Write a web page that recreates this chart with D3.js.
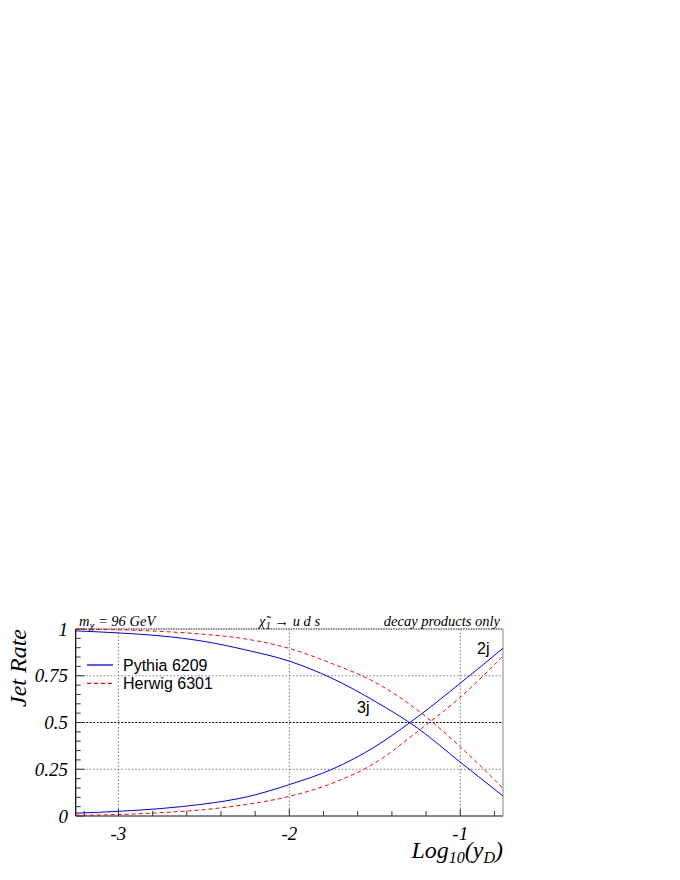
<!DOCTYPE html>
<html>
<head>
<meta charset="utf-8">
<script src="https://cdn.jsdelivr.net/npm/d3@7.9.0/dist/d3.min.js"></script>
<style>
  body { margin: 0; background: #fff; }
  .serif { font-family: "Liberation Serif", "DejaVu Serif", serif; font-style: italic; }
  .sans { font-family: "Liberation Sans", Arial, sans-serif; }
</style>
</head>
<body>
<svg id="chart" width="680" height="880"></svg>
<script>
// log10(yD) sample points
const logY = [-3.25, -3.0, -2.75, -2.5, -2.25, -2.0, -1.75, -1.5, -1.25, -1.0, -0.75];

// jet rates
const pythia3j = [0.990, 0.979, 0.963, 0.934, 0.887, 0.828, 0.736, 0.614, 0.470, 0.288, 0.107];
const pythia2j = [0.015, 0.025, 0.040, 0.064, 0.102, 0.168, 0.250, 0.370, 0.530, 0.710, 0.897];
const herwig3j = [0.998, 0.996, 0.987, 0.972, 0.946, 0.896, 0.815, 0.716, 0.566, 0.370, 0.148];
const herwig2j = [0.004, 0.008, 0.018, 0.034, 0.062, 0.105, 0.175, 0.283, 0.452, 0.635, 0.855];

const xTicks = [-3, -2, -1];
const yTicks = [0, 0.25, 0.5, 0.75, 1];
const yTickLabels = ["0", "0.25", "0.5", "0.75", "1"];

const legendItems = [
  { label: "Pythia 6209", color: "#0000ff", dash: null },
  { label: "Herwig 6301", color: "#ff0000", dash: "4,3" }
];

const svg = d3.select("#chart");

// plot frame
const pLeft = 75.7, pRight = 503, pTop = 629, pBottom = 816;

const x = d3.scaleLinear().domain([-3.25, -0.75]).range([pLeft, pRight]);
const y = d3.scaleLinear().domain([0, 1]).range([pBottom, pTop]);

// grid lines
const grid = svg.append("g");
grid.selectAll("line.vx")
  .data(xTicks)
  .join("line")
  .attr("x1", d => x(d)).attr("x2", d => x(d))
  .attr("y1", pTop).attr("y2", pBottom)
  .attr("stroke", "#555").attr("stroke-width", 0.8)
  .attr("stroke-dasharray", "1.5,2");

grid.selectAll("line.hy")
  .data(yTicks.filter(d => d > 0 && d < 1))
  .join("line")
  .attr("x1", pLeft).attr("x2", pRight)
  .attr("y1", d => y(d)).attr("y2", d => y(d))
  .attr("stroke", d => d === 0.5 ? "#000" : "#555")
  .attr("stroke-width", d => d === 0.5 ? 1.1 : 0.8)
  .attr("stroke-dasharray", d => d === 0.5 ? "2,1.5" : "1.5,2");

// top and right borders (grey)
svg.append("line")
  .attr("x1", pLeft).attr("x2", pRight).attr("y1", pTop).attr("y2", pTop)
  .attr("stroke", "#888").attr("stroke-width", 2).attr("stroke-dasharray", "1.5,1");
svg.append("line")
  .attr("x1", pRight).attr("x2", pRight).attr("y1", pTop).attr("y2", pBottom)
  .attr("stroke", "#999").attr("stroke-width", 1.2);

// bottom axis: ticks every 0.2 pointing up
const xMinor = d3.range(-3.2, -0.7, 0.2).map(v => +v.toFixed(1));
svg.append("line")
  .attr("x1", pLeft).attr("x2", pRight).attr("y1", pBottom).attr("y2", pBottom)
  .attr("stroke", "#888").attr("stroke-width", 2);
svg.append("g").selectAll("line")
  .data(xMinor)
  .join("line")
  .attr("x1", d => x(d)).attr("x2", d => x(d))
  .attr("y1", pBottom).attr("y2", d => Math.abs(d - Math.round(d)) < 1e-6 ? pBottom - 7 : pBottom - 5)
  .attr("stroke", "#333").attr("stroke-width", 1);

svg.append("g").selectAll("text")
  .data(xTicks)
  .join("text")
  .attr("class", "serif")
  .attr("x", d => x(d)).attr("y", 840)
  .attr("text-anchor", "middle")
  .attr("font-size", 19)
  .text(d => "-" + Math.abs(d));

// left axis: major every 0.25, minor every 0.05, pointing right
const yMinor = d3.range(0, 21).map(i => i * 0.05);
svg.append("line")
  .attr("x1", pLeft).attr("x2", pLeft).attr("y1", pTop).attr("y2", pBottom)
  .attr("stroke", "#000").attr("stroke-width", 1.2);
svg.append("g").selectAll("line")
  .data(yMinor)
  .join("line")
  .attr("x1", pLeft)
  .attr("x2", (d, i) => i % 5 === 0 ? pLeft + 9 : pLeft + 5)
  .attr("y1", d => y(d)).attr("y2", d => y(d))
  .attr("stroke", "#333").attr("stroke-width", 1);

svg.append("g").selectAll("text")
  .data(yTicks)
  .join("text")
  .attr("class", "serif")
  .attr("x", 68).attr("y", d => y(d) + 6.5)
  .attr("text-anchor", "end")
  .attr("font-size", 19)
  .text((d, i) => yTickLabels[i]);

// axis titles
svg.append("text")
  .attr("class", "serif")
  .attr("transform", "translate(26,668) rotate(-90)")
  .attr("text-anchor", "middle")
  .attr("font-size", 24)
  .text("Jet Rate");

const xTitle = svg.append("text")
  .attr("class", "serif")
  .attr("x", 503).attr("y", 858)
  .attr("text-anchor", "end")
  .attr("font-size", 24);
xTitle.append("tspan").text("Log");
xTitle.append("tspan").attr("font-size", 16).attr("dy", 5).text("10");
xTitle.append("tspan").attr("dy", -5).text("(y");
xTitle.append("tspan").attr("font-size", 16).attr("dy", 5).text("D");
xTitle.append("tspan").attr("dy", -5).text(")");

// header texts
const hLeft = svg.append("text").attr("class", "serif")
  .attr("x", 79).attr("y", 626).attr("font-size", 14.5);
hLeft.append("tspan").text("m");
hLeft.append("tspan").attr("font-size", 11).attr("dy", 3).text("χ");
hLeft.append("tspan").attr("dy", -3).text(" = 96 GeV");

const hMid = svg.append("text").attr("class", "serif")
  .attr("x", 259).attr("y", 626).attr("font-size", 14.5);
hMid.append("tspan").text("χ\u0303");
hMid.append("tspan").attr("font-size", 11).attr("dy", 3).text("1");
hMid.append("tspan").attr("dy", -3).attr("font-style", "normal").text(" → ");
hMid.append("tspan").text("u d s");

svg.append("text").attr("class", "serif")
  .attr("x", 500).attr("y", 626).attr("text-anchor", "end")
  .attr("font-size", 14.5)
  .text("decay products only");

// curves
const line = d3.line()
  .x(d => x(d[0]))
  .y(d => y(d[1]))
  .curve(d3.curveMonotoneX);

const series = [
  { values: pythia3j, style: legendItems[0] },
  { values: pythia2j, style: legendItems[0] },
  { values: herwig3j, style: legendItems[1] },
  { values: herwig2j, style: legendItems[1] }
];

svg.append("g").selectAll("path")
  .data(series)
  .join("path")
  .attr("d", s => line(logY.map((v, i) => [v, s.values[i]])))
  .attr("fill", "none")
  .attr("stroke", s => s.style.color)
  .attr("stroke-width", 1)
  .attr("stroke-dasharray", s => s.style.dash);

// curve labels
svg.append("text").attr("class", "sans")
  .attr("x", 477).attr("y", 654).attr("font-size", 16).text("2j");
svg.append("text").attr("class", "sans")
  .attr("x", 357).attr("y", 713).attr("font-size", 16).text("3j");

// legend
const legend = svg.append("g");
legendItems.forEach((d, i) => {
  const ly = 665 + i * 18.3;
  legend.append("line")
    .attr("x1", 87).attr("x2", 113).attr("y1", ly).attr("y2", ly)
    .style("stroke", d.color).style("stroke-width", 1.3)
    .style("stroke-dasharray", d.dash);
  legend.append("text").attr("class", "sans")
    .attr("x", 123).attr("y", ly + 6)
    .attr("font-size", 16)
    .text(d.label);
});
</script>
</body>
</html>
